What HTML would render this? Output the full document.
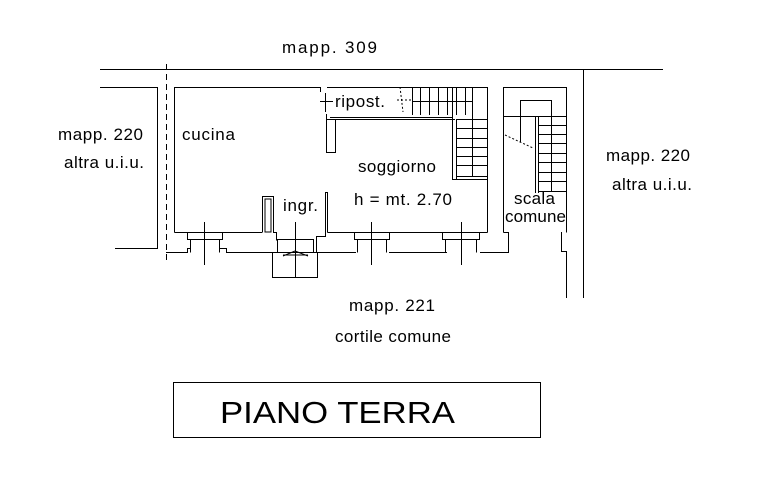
<!DOCTYPE html>
<html><head><meta charset="utf-8"><style>
html,body{margin:0;padding:0;background:#fff;}
svg{display:block;}
text{font-family:"Liberation Sans",Arial,sans-serif;fill:#000;}
</style></head><body>
<svg width="771" height="478" viewBox="0 0 771 478" xmlns="http://www.w3.org/2000/svg">
<g stroke="#000" stroke-width="1" fill="none">
<line x1="100" y1="69.5" x2="663" y2="69.5"/>
<line x1="166.5" y1="64" x2="166.5" y2="262" stroke-dasharray="6,4"/>
<polyline points="100,87.5 157.5,87.5 157.5,248.5 115,248.5"/>
<polyline points="174.5,232.5 174.5,87.5 320,87.5"/>
<polyline points="327,87.5 487.5,87.5 487.5,232.5"/>
<line x1="320.5" y1="87" x2="320.5" y2="92"/>
<line x1="325.5" y1="112" x2="325.5" y2="93"/>
<line x1="320" y1="101.5" x2="333" y2="101.5"/>
<polyline points="326.5,114 326.5,119.5 455,119.5"/>
<line x1="330" y1="117.5" x2="452" y2="117.5"/>
<rect x="326.5" y="119.5" width="9" height="33"/>
<line x1="174.5" y1="232.5" x2="262" y2="232.5"/>
<polyline points="262.5,232.5 262.5,196.5 273.5,196.5 273.5,232.5 276.5,232.5 276.5,240.5"/>
<rect x="265" y="199" width="6" height="33"/>
<polyline points="327.5,232.5 327.5,192.5 325.5,192.5 325.5,236.5 316.5,236.5 316.5,252"/>
<line x1="327.5" y1="232.5" x2="487.5" y2="232.5"/>
<line x1="166" y1="252.5" x2="188" y2="252.5"/>
<line x1="226" y1="252.5" x2="278" y2="252.5"/>
<line x1="316" y1="252.5" x2="356" y2="252.5"/>
<line x1="389" y1="252.5" x2="447" y2="252.5"/>
<line x1="480" y1="252.5" x2="509" y2="252.5"/>
<polyline points="187.5,232.5 187.5,239.5 190.5,239.5 190.5,252.5"/>
<polyline points="222.5,232.5 222.5,239.5 219.5,239.5 219.5,252.5"/>
<line x1="190" y1="239.5" x2="220" y2="239.5"/>
<polyline points="187.5,252.5 187.5,248.5 190,248.5"/>
<polyline points="226.5,252.5 226.5,248.5 220,248.5"/>
<line x1="204.5" y1="222" x2="204.5" y2="265"/>
<polyline points="354.5,232.5 354.5,239.5 357.5,239.5 357.5,252.5"/>
<polyline points="389.5,232.5 389.5,239.5 386.5,239.5 386.5,252.5"/>
<line x1="357" y1="239.5" x2="387" y2="239.5"/>
<line x1="371.5" y1="222" x2="371.5" y2="265"/>
<polyline points="442.5,232.5 442.5,239.5 445.5,239.5 445.5,252.5"/>
<polyline points="479.5,232.5 479.5,239.5 476.5,239.5 476.5,252.5"/>
<line x1="445" y1="239.5" x2="477" y2="239.5"/>
<line x1="461.5" y1="222" x2="461.5" y2="265"/>
<polyline points="277.5,252.5 277.5,239.5 313.5,239.5 313.5,252.5"/>
<rect x="272.5" y="252.5" width="45" height="25"/>
<line x1="295.5" y1="222" x2="295.5" y2="278"/>
<line x1="283" y1="255" x2="308" y2="255"/>
<line x1="283" y1="256" x2="295" y2="251"/>
<line x1="295" y1="251" x2="308" y2="256"/>
<rect x="452.5" y="87.5" width="35" height="92"/>
<line x1="456.5" y1="120" x2="456.5" y2="179"/>
<line x1="456" y1="119.5" x2="487" y2="119.5"/>
<line x1="412.5" y1="87.5" x2="412.5" y2="115"/>
<line x1="420.5" y1="87" x2="420.5" y2="115"/><line x1="429.5" y1="87" x2="429.5" y2="115"/>
<line x1="438.5" y1="87" x2="438.5" y2="115"/><line x1="447.5" y1="87" x2="447.5" y2="115"/>
<line x1="456.5" y1="87" x2="456.5" y2="115"/><line x1="465.5" y1="87" x2="465.5" y2="115"/>
<line x1="472.5" y1="87" x2="472.5" y2="115"/>
<line x1="412" y1="101.5" x2="472" y2="101.5"/>
<line x1="472.5" y1="101" x2="472.5" y2="176"/>
<line x1="456" y1="128.5" x2="487" y2="128.5"/><line x1="456" y1="138.5" x2="487" y2="138.5"/>
<line x1="456" y1="147.5" x2="487" y2="147.5"/><line x1="456" y1="156.5" x2="487" y2="156.5"/>
<line x1="456" y1="165.5" x2="487" y2="165.5"/><line x1="456" y1="176.5" x2="487" y2="176.5"/>
<line x1="400" y1="87" x2="403" y2="112" stroke-dasharray="2,2"/>
<line x1="397" y1="100" x2="411" y2="100" stroke-dasharray="2,2"/>
<polyline points="503.5,232.5 503.5,87.5 566.5,87.5 566.5,232.5"/>
<polyline points="503.5,232.5 508.5,232.5 508.5,252.5"/>
<polyline points="561,232.5 561.5,232.5 561.5,251.5 566.5,251.5 566.5,298"/>
<line x1="583.5" y1="69" x2="583.5" y2="298"/>
<polyline points="520.5,142 520.5,100.5 551.5,100.5 551.5,191"/>
<line x1="535.5" y1="117" x2="535.5" y2="193"/>
<line x1="538.5" y1="117" x2="538.5" y2="193"/>
<line x1="504" y1="116.5" x2="566" y2="116.5"/>
<line x1="538" y1="125.5" x2="566" y2="125.5"/><line x1="538" y1="134.5" x2="566" y2="134.5"/>
<line x1="538" y1="143.5" x2="566" y2="143.5"/><line x1="538" y1="153.5" x2="566" y2="153.5"/>
<line x1="538" y1="162.5" x2="566" y2="162.5"/><line x1="538" y1="172.5" x2="566" y2="172.5"/>
<line x1="538" y1="181.5" x2="566" y2="181.5"/><line x1="538" y1="191.5" x2="566" y2="191.5"/>
<line x1="505" y1="135" x2="533" y2="148" stroke-dasharray="2,2"/>
<rect x="173.5" y="382.5" width="367" height="55"/>
</g>
<g font-size="17" lengthAdjust="spacingAndGlyphs">
<text x="282" y="53" textLength="95">mapp. 309</text>
<text x="58" y="140" textLength="85">mapp. 220</text>
<text x="64" y="168" textLength="80">altra u.i.u.</text>
<text x="182" y="140" textLength="53">cucina</text>
<text x="335" y="107" textLength="50">ripost.</text>
<text x="358" y="172" textLength="78">soggiorno</text>
<text x="354" y="205" textLength="98">h = mt. 2.70</text>
<text x="283" y="211" textLength="35">ingr.</text>
<text x="514" y="204" textLength="41">scala</text>
<text x="505" y="222" textLength="61">comune</text>
<text x="606" y="161" textLength="84">mapp. 220</text>
<text x="612" y="190" textLength="80">altra u.i.u.</text>
<text x="349" y="311" textLength="86">mapp. 221</text>
<text x="335" y="342" textLength="116">cortile comune</text>
</g>
<text x="220" y="423" font-size="31" textLength="235" lengthAdjust="spacingAndGlyphs">PIANO TERRA</text>
</svg>
</body></html>
